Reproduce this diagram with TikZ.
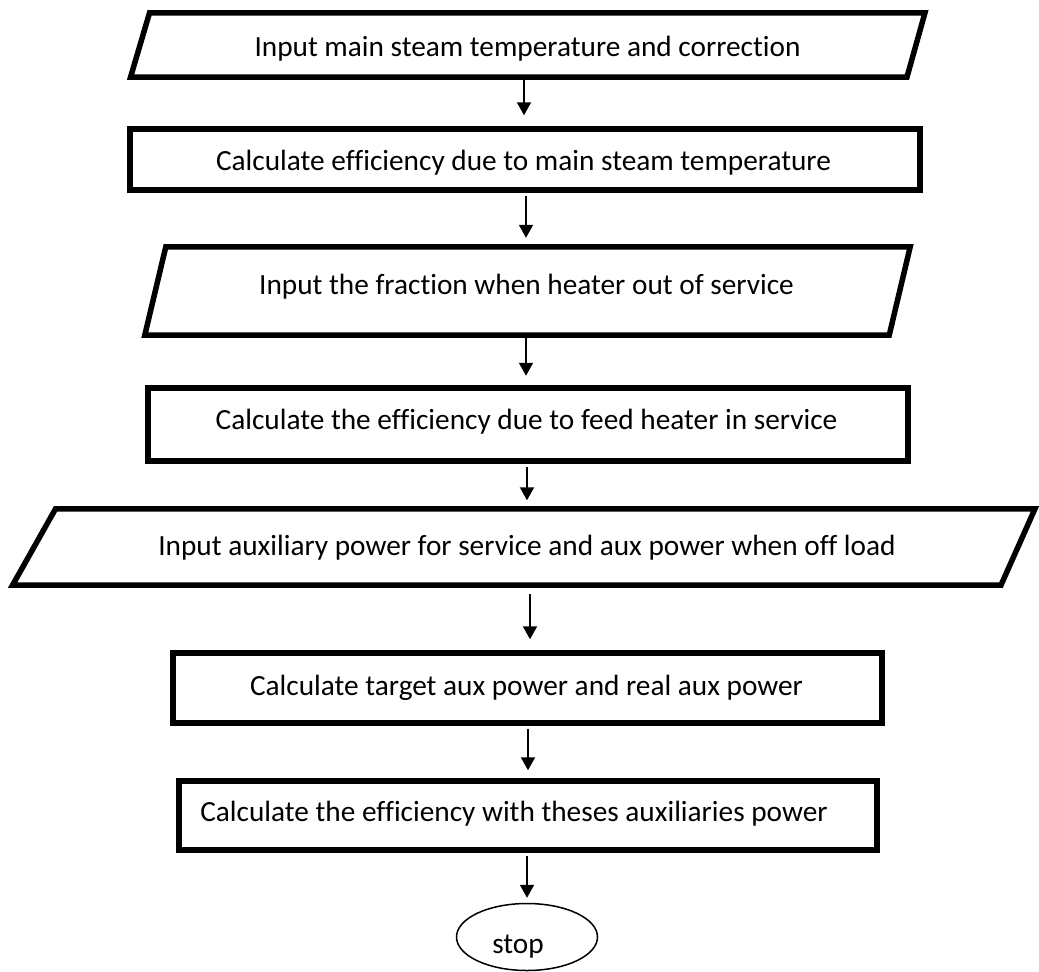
\documentclass[tikz,border=0pt]{standalone}
\usepackage{fontspec}
\setmainfont{Carlito}[Ligatures=NoCommon]
\usetikzlibrary{arrows.meta,shapes.geometric}
\begin{document}
\begin{tikzpicture}[x=1pt,y=-1pt,
  boxline/.style={draw=black,line width=5.5pt,line join=miter},
  procbox/.style={boxline,rectangle,inner sep=0pt},
  iobox/.style={rectangle,inner sep=0pt},
  txt/.style={anchor=base,inner sep=0pt,font=\fontsize{29.3}{34}\selectfont},
  arr/.style={line width=2pt,-{Triangle[length=13pt,width=14pt]}},
  endbox/.style={draw=black,line width=1.5pt,ellipse,inner sep=0pt}]
\useasboundingbox (0,0) rectangle (1039,972);
% shapes
\node[iobox,minimum width=775.5pt,minimum height=64pt] (p1) at (528,45) {};
\draw[boxline] ([xshift=9.5pt]p1.north west) -- ([xshift=9pt]p1.north east) -- ([xshift=-9pt]p1.south east) -- ([xshift=-9.5pt]p1.south west) -- cycle;
\node[procbox,minimum width=790pt,minimum height=61pt] (r1) at (525,159.5) {};
\node[iobox,minimum width=744pt,minimum height=88pt] (p2) at (527.5,291) {};
\draw[boxline] ([xshift=10.5pt]p2.north west) -- ([xshift=10.5pt]p2.north east) -- ([xshift=-10.5pt]p2.south east) -- ([xshift=-10.5pt]p2.south west) -- cycle;
\node[procbox,minimum width=760pt,minimum height=73pt] (r2) at (528,424.5) {};
\node[iobox,minimum width=983.5pt,minimum height=76pt] (p3) at (526,547) {};
\draw[boxline] ([xshift=21.5pt]p3.north west) -- ([xshift=17pt]p3.north east) -- ([xshift=-17pt]p3.south east) -- ([xshift=-21.5pt]p3.south west) -- cycle;
\node[procbox,minimum width=709pt,minimum height=70pt] (r3) at (527.5,688) {};
\node[procbox,minimum width=698pt,minimum height=69pt] (r4) at (528,815.5) {};
\node[endbox,minimum width=141pt,minimum height=67pt] (e1) at (527,937) {};
% texts
\node[txt] (t1) at (527.5,56) {Input main steam temperature and correction};
\node[txt] (t2) at (523.5,170) {Calculate efficiency due to main steam temperature};
\node[txt] (t3) at (526.5,294) {Input the fraction when heater out of service};
\node[txt] (t4) at (526.5,429) {Calculate the efficiency due to feed heater in service};
\node[txt] (t5) at (527,555) {Input auxiliary power for service and aux power when off load};
\node[txt] (t6) at (526.5,695) {Calculate target aux power and real aux power};
\node[txt] (t7) at (514,821) {Calculate the efficiency with theses auxiliaries power};
\node[txt] (t8) at (518,953) {stop};
% connectors
\coordinate (x1) at (524,0);
\coordinate (x2) at (526,0);
\coordinate (x3) at (526,0);
\coordinate (x4) at (527,0);
\coordinate (x5) at (530,0);
\coordinate (x6) at (528,0);
\coordinate (x7) at (527,0);
\draw[arr,shorten <=2.75pt,shorten >=11pt] (p1.south -| x1) -- (r1.north -| x1);
\draw[arr,shorten <=2.75pt,shorten >=9pt] (r1.south -| x2) -- (p2.north -| x2);
\draw[arr,shorten <=2.75pt,shorten >=9.5pt] (p2.south -| x3) -- (r2.north -| x3);
\draw[arr,shorten <=2.75pt,shorten >=8.5pt] (r2.south -| x4) -- (p3.north -| x4);
\draw[arr,shorten <=9pt,shorten >=11pt] (p3.south -| x5) -- (r3.north -| x5);
\draw[arr,shorten <=2.75pt,shorten >=8pt] (r3.south -| x6) -- (r4.north -| x6);
\draw[arr,shorten <=2.75pt,shorten >=5pt] (r4.south -| x7) -- (e1.north -| x7);
\end{tikzpicture}
\end{document}
